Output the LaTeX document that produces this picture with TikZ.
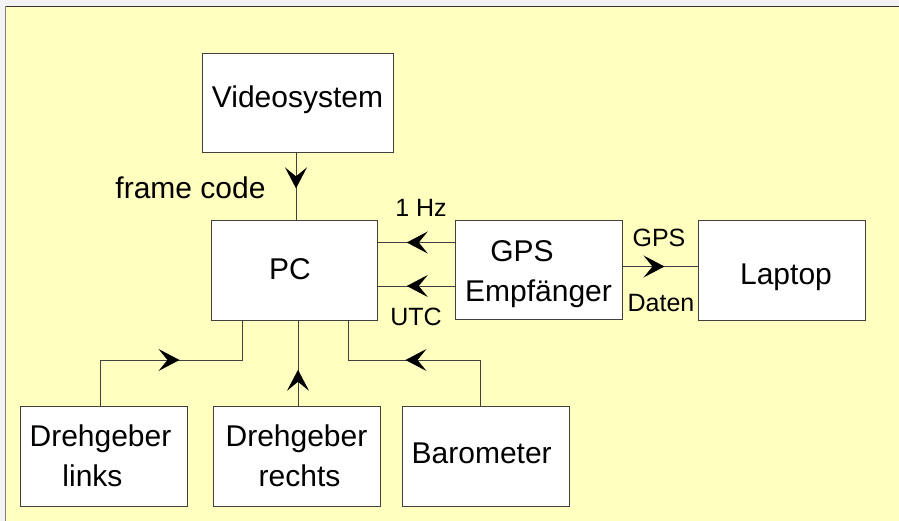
\documentclass[tikz,border=0pt]{standalone}
\usepackage{fontspec}
\setmainfont{Liberation Sans}
\usetikzlibrary{arrows.meta,decorations.markings}
\definecolor{bgyellow}{HTML}{FFFFC0}
\definecolor{outgray}{HTML}{F3F3F3}
\definecolor{edgegray}{HTML}{404040}
\tikzset{
  blk/.style={draw=edgegray, line width=1pt, fill=white, inner sep=0pt,
    font=\fontsize{30}{40}\selectfont},
  bl/.style={text height=#1, text depth=10pt},
  lbl/.style={inner sep=0pt, font=\fontsize{25}{30}\selectfont},
  conn/.style={draw=edgegray, line width=1pt},
  midarr/.style={postaction={decorate}, decoration={markings,
    mark=at position #1 with {\arrow{Stealth[length=21pt,width=22pt,inset=9pt,color=black]}}}}
}
\begin{document}
\begin{tikzpicture}[x=1pt,y=-1pt]
\useasboundingbox (0,0) rectangle (899,521);
\fill[outgray] (0,0) rectangle (899,521);
\fill[bgyellow] (5,6) rectangle (899,521);
\draw[color=black!80, line width=1.6pt] (5,6.5) -- (899,6.5);
\draw[color=black!50, line width=1.6pt] (5.3,6) -- (5.3,521);

\node[blk, bl=17.6pt, minimum width=191pt, minimum height=99pt] (video) at (297.5,103.5) {Videosystem};
\node[blk, bl=27.6pt, minimum width=166pt, minimum height=99pt] (pc) at (294,270.5) {PC\hspace*{8pt}};
\node[blk, align=center, minimum width=167pt, minimum height=98pt] (gps) at (538.5,270) {\rule{0pt}{29.5pt}GPS\hspace*{1.1em}\\Empfänger};
\node[blk, bl=37pt, minimum width=167pt, minimum height=99pt] (laptop) at (781.5,270.5) {\hspace*{9pt}Laptop};
\node[blk, align=center, minimum width=167pt, minimum height=100pt] (dl) at (104,456) {Drehgeber\hspace*{7pt}\\links\hspace*{23pt}};
\node[blk, align=center, minimum width=167pt, minimum height=100pt] (dr) at (296.5,456) {Drehgeber\\\hspace*{6pt}rechts};
\node[blk, bl=24pt, minimum width=167pt, minimum height=100pt] (baro) at (486,456) {Barometer\hspace*{8.6pt}};

\node[inner sep=0pt, font=\fontsize{30}{36}\selectfont] (fc) at (190.5,188) {frame code};
\node[lbl] (hz) at (421,208) {1 Hz};
\node[lbl] (utc) at (416,316.5) {UTC};
\node[lbl] (gpsl) at (659,238) {GPS};
\node[lbl] (daten) at (661,303) {Daten};

\coordinate (jl) at (242,360);
\coordinate (jr) at (348,360);

\draw[conn, midarr=0.52] ([xshift=-1.5pt]video.south) -- ([xshift=-1.5pt]video.south |- pc.north);
\draw[conn, midarr=0.62] ([yshift=27.5pt]gps.west) -- ([yshift=27.5pt]gps.west -| pc.east);
\draw[conn, midarr=0.62] ([yshift=-16pt]gps.west) -- ([yshift=-16pt]gps.west -| pc.east);
\draw[conn, midarr=0.56] ([yshift=3.5pt]gps.east) -- ([yshift=3.5pt]gps.east -| laptop.west);
\draw[conn, midarr=125pt] ([xshift=-4pt]dl.north) |- (jl) -- (jl |- pc.south);
\draw[conn, midarr=0.42] ([xshift=1.5pt]dr.north) -- ([xshift=1.5pt]dr.north |- pc.south);
\draw[conn, midarr=120pt] ([xshift=-6pt]baro.north) |- (jr) -- (jr |- pc.south);
\end{tikzpicture}
\end{document}
